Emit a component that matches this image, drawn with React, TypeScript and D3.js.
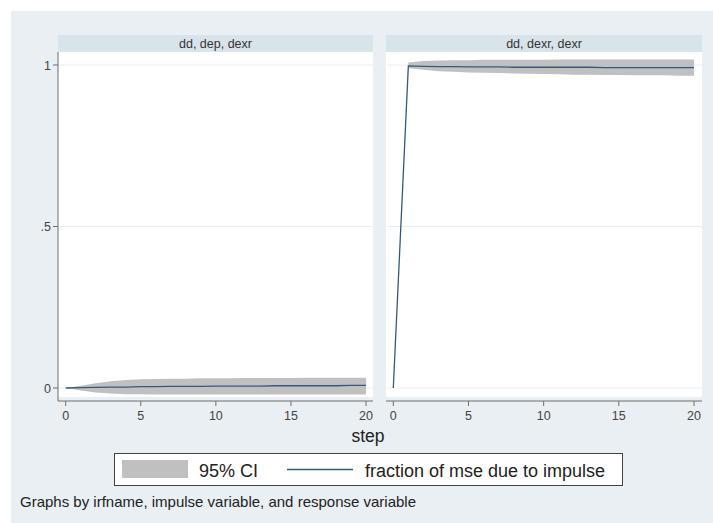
import * as d3 from "d3";
import React, { useRef, useEffect } from "react";

// steps on the x axis
const steps = [0, 1, 2, 3, 4, 5, 6, 7, 8, 9, 10, 11, 12, 13, 14, 15, 16, 17, 18, 19, 20];

// panel titles
const panelNames = ["dd, dep, dexr", "dd, dexr, dexr"];

// dd, dep, dexr
const fevd1 = [0, 0.001, 0.002, 0.003, 0.003, 0.004, 0.004, 0.005, 0.005, 0.005, 0.006, 0.006, 0.006, 0.006, 0.007, 0.007, 0.007, 0.007, 0.007, 0.008, 0.008];
const upper1 = [0, 0.007, 0.015, 0.021, 0.025, 0.027, 0.028, 0.029, 0.029, 0.030, 0.030, 0.030, 0.031, 0.031, 0.031, 0.031, 0.032, 0.032, 0.032, 0.032, 0.032];
const lower1 = [0, -0.008, -0.014, -0.017, -0.019, -0.019, -0.020, -0.020, -0.020, -0.020, -0.020, -0.020, -0.020, -0.020, -0.020, -0.020, -0.020, -0.020, -0.020, -0.020, -0.020];

// dd, dexr, dexr
const fevd2 = [0, 0.997, 0.996, 0.995, 0.995, 0.994, 0.994, 0.994, 0.993, 0.993, 0.993, 0.993, 0.993, 0.993, 0.992, 0.992, 0.992, 0.992, 0.992, 0.992, 0.992];
const upper2 = [0, 1.008, 1.012, 1.014, 1.015, 1.015, 1.016, 1.016, 1.016, 1.016, 1.016, 1.017, 1.017, 1.017, 1.017, 1.017, 1.017, 1.017, 1.017, 1.017, 1.017];
const lower2 = [0, 0.990, 0.985, 0.981, 0.979, 0.977, 0.976, 0.975, 0.974, 0.973, 0.972, 0.971, 0.970, 0.970, 0.969, 0.969, 0.968, 0.968, 0.968, 0.967, 0.967];

const xTicks = [0, 5, 10, 15, 20];
const yTicks = [0, 0.5, 1];
const yTickLabels = ["0", ".5", "1"];

const legendLabels = ["95% CI", "fraction of mse due to impulse"];
const note = "Graphs by irfname, impulse variable, and response variable";
const xTitle = "step";

function App() {
    const svgRef = useRef(null);
    const width = 713;
    const height = 523;
    const font = "'Liberation Sans', Arial, Helvetica, sans-serif";

    useEffect(() => {
        const svg = d3.select(svgRef.current);
        svg.selectAll("*").remove();

        const bg = "#e9eff2";
        const strip = "#d9e3ea";
        const bandColor = "#c0c0c0";
        const lineColor = "#34597f";
        const axisColor = "#6e6e6e";

        svg.append("rect").attr("width", width).attr("height", height).attr("fill", "#ffffff");
        svg.append("rect").attr("x", 11).attr("y", 11).attr("width", width - 11).attr("height", height - 11).attr("fill", bg);

        const panels = [
            { name: panelNames[0], left: 58, right: 373, xr: [65.7, 366], line: fevd1, lo: lower1, hi: upper1 },
            { name: panelNames[1], left: 386, right: 702, xr: [393.3, 694], line: fevd2, lo: lower2, hi: upper2 },
        ];

        const stripTop = 35, stripBottom = 52, plotBottom = 397, axisY = 401;

        const yScale = d3.scaleLinear().domain([0, 1]).range([388, 65]);

        panels.forEach((p, pi) => {
            const xScale = d3.scaleLinear().domain([0, 20]).range(p.xr);
            const g = svg.append("g");

            // strip
            g.append("rect")
                .attr("x", p.left).attr("y", stripTop)
                .attr("width", p.right - p.left).attr("height", stripBottom - stripTop)
                .attr("fill", strip);
            g.append("text")
                .text(p.name)
                .attr("x", (p.left + p.right) / 2)
                .attr("y", 48)
                .attr("text-anchor", "middle")
                .style("font-family", font)
                .style("font-size", "12.5px")
                .style("fill", "#333");

            // plot region
            g.append("rect")
                .attr("x", p.left).attr("y", stripBottom)
                .attr("width", p.right - p.left).attr("height", plotBottom - stripBottom)
                .attr("fill", "#ffffff");

            // grid
            g.selectAll(".grid")
                .data(yTicks)
                .enter()
                .append("line")
                .attr("x1", p.left + 1).attr("x2", p.right)
                .attr("y1", d => yScale(d)).attr("y2", d => yScale(d))
                .attr("stroke", "#eaeff2")
                .attr("stroke-width", 1);

            // CI band
            const area = d3.area<number>()
                .x((d, i) => xScale(steps[i]))
                .y0((d, i) => yScale(p.lo[i]))
                .y1((d, i) => yScale(p.hi[i]));
            g.append("path")
                .datum(steps)
                .attr("d", area)
                .attr("fill", bandColor);

            const line = d3.line<number>()
                .x((d, i) => xScale(steps[i]))
                .y((d, i) => yScale(p.line[i]));
            g.append("path")
                .datum(steps)
                .attr("d", line)
                .attr("fill", "none")
                .attr("stroke", lineColor)
                .attr("stroke-width", 1.3);

            // x axis
            g.append("line")
                .attr("x1", p.left).attr("x2", p.right)
                .attr("y1", axisY).attr("y2", axisY)
                .attr("stroke", axisColor);
            xTicks.forEach(t => {
                g.append("line")
                    .attr("x1", xScale(t)).attr("x2", xScale(t))
                    .attr("y1", axisY).attr("y2", axisY + 5)
                    .attr("stroke", axisColor);
                g.append("text")
                    .text(t)
                    .attr("x", xScale(t))
                    .attr("y", 419.5)
                    .attr("text-anchor", "middle")
                    .style("font-family", font)
                    .style("font-size", "12.5px")
                    .style("fill", "#444");
            });

            // y axis only on first panel
            if (pi === 0) {
                g.append("line")
                    .attr("x1", p.left).attr("x2", p.left)
                    .attr("y1", stripBottom).attr("y2", axisY)
                    .attr("stroke", axisColor);
                yTicks.forEach((t, i) => {
                    g.append("line")
                        .attr("x1", p.left - 5).attr("x2", p.left)
                        .attr("y1", yScale(t)).attr("y2", yScale(t))
                        .attr("stroke", axisColor);
                    g.append("text")
                        .text(yTickLabels[i])
                        .attr("x", 51)
                        .attr("y", yScale(t) + 4.5)
                        .attr("text-anchor", "end")
                        .style("font-family", font)
                        .style("font-size", "12.5px")
                        .style("fill", "#444");
                });
            }
        });

        // x title
        svg.append("text")
            .text(xTitle)
            .attr("x", 368)
            .attr("y", 442)
            .attr("text-anchor", "middle")
            .style("font-family", font)
            .style("font-size", "17.5px")
            .style("fill", "#222");

        // legend
        const lg = svg.append("g");
        lg.append("rect")
            .attr("x", 114.5).attr("y", 453.5)
            .attr("width", 508).attr("height", 32)
            .attr("fill", "#ffffff")
            .attr("stroke", "#444")
            .attr("stroke-width", 1);
        lg.append("rect")
            .attr("x", 122).attr("y", 460)
            .attr("width", 66).attr("height", 18)
            .attr("fill", bandColor);
        lg.append("text")
            .text(legendLabels[0])
            .attr("x", 199).attr("y", 476.5)
            .style("font-family", font)
            .style("font-size", "18px")
            .style("fill", "#222");
        lg.append("line")
            .attr("x1", 287).attr("x2", 353)
            .attr("y1", 469.5).attr("y2", 469.5)
            .attr("stroke", lineColor)
            .attr("stroke-width", 1.3);
        lg.append("text")
            .text(legendLabels[1])
            .attr("x", 365).attr("y", 476.5)
            .style("font-family", font)
            .style("font-size", "18px")
            .style("fill", "#222");

        // note
        svg.append("text")
            .text(note)
            .attr("x", 20).attr("y", 507)
            .style("font-family", font)
            .style("font-size", "15px")
            .style("fill", "#222");
    }, []);

    return (
        <div>
            <svg ref={svgRef} width={width} height={height}
                style={{ position: "absolute", left: 0, top: 0 }}>
            </svg>
        </div>
    );
}

export default App;
